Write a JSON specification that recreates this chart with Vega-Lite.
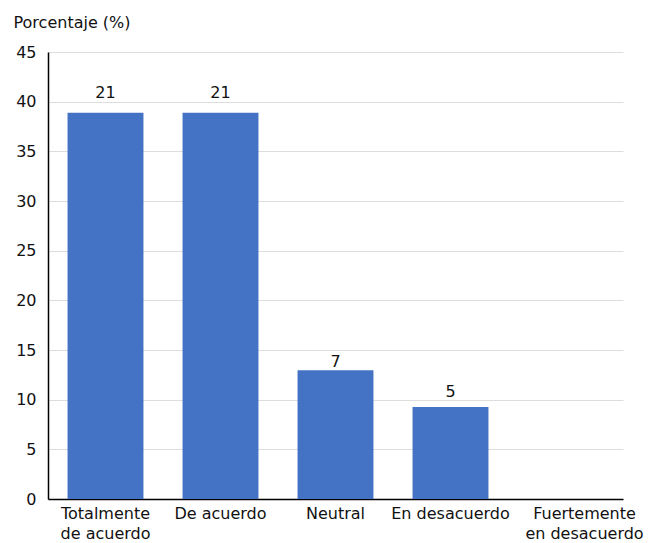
{
  "$schema": "https://vega.github.io/schema/vega-lite/v6.json",
  "autosize": "none",
  "width": 575,
  "height": 447,
  "padding": {"left": 48, "top": 52, "right": 28, "bottom": 44},
  "background": "white",
  "config": {
    "font": "DejaVu Sans",
    "view": {"stroke": null}
  },
  "data": {
    "values": [
      {"categoria": "Totalmente de acuerdo", "porcentaje": 38.89, "n": 21},
      {"categoria": "De acuerdo", "porcentaje": 38.89, "n": 21},
      {"categoria": "Neutral", "porcentaje": 12.96, "n": 7},
      {"categoria": "En desacuerdo", "porcentaje": 9.26, "n": 5},
      {"categoria": "Fuertemente en desacuerdo", "porcentaje": 0, "n": 0}
    ]
  },
  "encoding": {
    "x": {
      "field": "categoria",
      "type": "nominal",
      "sort": null,
      "scale": {"paddingInner": 0.34, "paddingOuter": 0.17},
      "axis": {
        "title": null,
        "labelAngle": 0,
        "labelFont": "DejaVu Sans",
        "labelFontSize": 16,
        "labelColor": "#111111",
        "labelPadding": 6,
        "labelLineHeight": 20,
        "labelExpr": "datum.value == 'Totalmente de acuerdo' ? ['Totalmente', 'de acuerdo'] : datum.value == 'Fuertemente en desacuerdo' ? ['Fuertemente', 'en desacuerdo'] : datum.value",
        "labelOffset": {"condition": {"test": "datum.value == 'Fuertemente en desacuerdo'", "value": 19}, "value": 0},
        "ticks": false,
        "domainColor": "#000000",
        "domainWidth": 1.5,
        "labelOverlap": false
      }
    },
    "y": {
      "field": "porcentaje",
      "type": "quantitative",
      "scale": {"domain": [0, 45], "nice": false},
      "axis": {
        "title": "Porcentaje (%)",
        "titleAngle": 0,
        "titleX": -35,
        "titleY": -25,
        "titleAlign": "left",
        "titleBaseline": "alphabetic",
        "titleFont": "DejaVu Sans",
        "titleFontSize": 16,
        "titleFontWeight": "normal",
        "titleColor": "#111111",
        "values": [0, 5, 10, 15, 20, 25, 30, 35, 40, 45],
        "labelFont": "DejaVu Sans",
        "labelFontSize": 16,
        "labelColor": "#111111",
        "labelPadding": 12,
        "ticks": false,
        "grid": true,
        "gridColor": "#dddddd",
        "domainColor": "#000000",
        "domainWidth": 1.5
      }
    }
  },
  "layer": [
    {
      "mark": {"type": "bar", "color": "#4472c4"}
    },
    {
      "transform": [{"filter": "datum.n > 0"}],
      "mark": {
        "type": "text",
        "baseline": "alphabetic",
        "dy": {"expr": "datum.n == 7 ? -3 : datum.n == 5 ? -10 : -15"},
        "fontSize": 16,
        "font": "DejaVu Sans",
        "color": "#111111"
      },
      "encoding": {"text": {"field": "n", "type": "quantitative"}}
    }
  ]
}
